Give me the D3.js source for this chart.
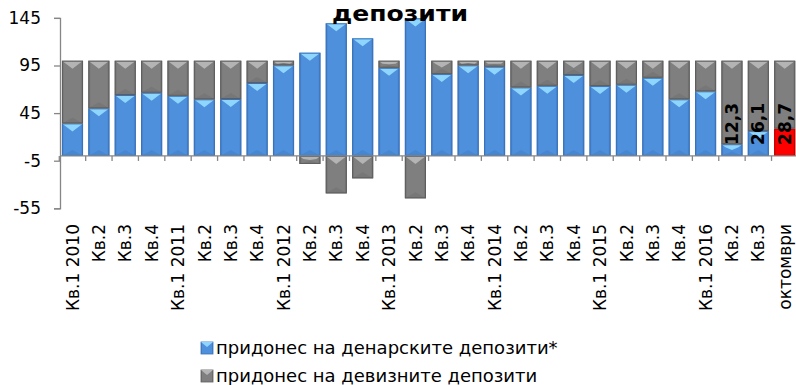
<!DOCTYPE html>
<html>
<head>
<meta charset="utf-8">
<script src="https://cdn.jsdelivr.net/npm/d3@7/dist/d3.min.js"></script>
<style>
  html, body { margin: 0; padding: 0; background: #fff; }
  svg { display: block; font-family: "DejaVu Sans", Verdana, sans-serif; }
</style>
</head>
<body>
<svg id="chart" width="796" height="385"></svg>
<script>
// Quarterly periods (and the latest month)
const categories = [
  "Кв.1 2010", "Кв.2", "Кв.3", "Кв.4",
  "Кв.1 2011", "Кв.2", "Кв.3", "Кв.4",
  "Кв.1 2012", "Кв.2", "Кв.3", "Кв.4",
  "Кв.1 2013", "Кв.2", "Кв.3", "Кв.4",
  "Кв.1 2014", "Кв.2", "Кв.3", "Кв.4",
  "Кв.1 2015", "Кв.2", "Кв.3", "Кв.4",
  "Кв.1 2016", "Кв.2", "Кв.3", "октомври"
];

// Contribution of denar deposits (%)
const denarContribution = [
  34.2, 50.0, 64.0, 66.4,
  63.2, 59.5, 59.8, 76.6,
  95.2, 108.4, 139.3, 123.5,
  92.6, 144.5, 86.0, 95.2,
  93.7, 72.0, 73.7, 85.0,
  73.4, 74.8, 82.1, 59.5,
  67.9, 12.3, 26.1, 28.7
];

// Contribution of foreign-currency deposits (%)
const foreignContribution = [
  65.8, 50.0, 36.0, 33.6,
  36.8, 40.5, 40.2, 23.4,
  4.8, -8.4, -39.3, -23.5,
  7.4, -44.5, 14.0, 4.8,
  6.3, 28.0, 26.3, 15.0,
  26.6, 25.2, 17.9, 40.5,
  32.1, 87.7, 73.9, 71.3
];

// Periods whose denar contribution is written on the bar
const labelledPeriods = [25, 26, 27];
// The latest month is highlighted
const highlightedPeriod = 27;

const yTicks = [-55, -5, 45, 95, 145];

const seriesNames = [
  "придонес на денарските депозити*",
  "придонес на девизните депозити"
];

const svg = d3.select("#chart");

const x = d3.scaleBand()
  .domain(d3.range(categories.length))
  .range([59.3, 797.9])
  .paddingInner(0.2)
  .paddingOuter(0.1);

const y = d3.scaleLinear()
  .domain([-55, 145])
  .range([208.3, 17.9]);

// Gradients that give the bars their bevelled look
const defs = svg.append("defs");
function sideGradient(id, edge, mid) {
  const g = defs.append("linearGradient").attr("id", id)
    .attr("x1", "0").attr("x2", "1").attr("y1", "0").attr("y2", "0");
  g.append("stop").attr("offset", "0").attr("stop-color", edge);
  g.append("stop").attr("offset", "0.12").attr("stop-color", mid);
  g.append("stop").attr("offset", "0.88").attr("stop-color", mid);
  g.append("stop").attr("offset", "1").attr("stop-color", edge);
}
sideGradient("gBlue", "#3d7bc6", "#4f90dc");
sideGradient("gGray", "#6c6c6c", "#7f7f7f");
sideGradient("gRed", "#e00000", "#ff0000");

const styles = [
  { fill: "url(#gBlue)", stroke: "#3a72b8", hi: "#8fd6ff", lo: "#4585d0" },
  { fill: "url(#gGray)", stroke: "#5e5e5e", hi: "#b4b4b4", lo: "#767676" }
];
const redStyle = { fill: "url(#gRed)", stroke: "#c00000", hi: null, lo: null };

const rows = categories.map((c, i) => ({
  i: i,
  denar: denarContribution[i],
  foreign: foreignContribution[i]
}));

const stacked = d3.stack()
  .keys(["denar", "foreign"])
  .offset(d3.stackOffsetDiverging)(rows);

// Bars
stacked.forEach((layer, k) => {
  const g = svg.append("g").attr("class", "series-" + k);
  layer.forEach((d, i) => {
    const st = (k === 0 && i === highlightedPeriod) ? redStyle : styles[k];
    const x0 = x(i), w = x.bandwidth();
    const top = y(Math.max(d[0], d[1]));
    const bot = y(Math.min(d[0], d[1]));
    const h = bot - top;
    if (h <= 0) return;
    const seg = g.append("g");
    seg.append("rect")
      .attr("x", x0).attr("y", top)
      .attr("width", w).attr("height", h)
      .attr("fill", st.fill);
    if (st.hi) {
      const th = Math.min(8, h * 0.5);
      // light facet along the top edge
      seg.append("path")
        .attr("d", `M${x0},${top} L${x0 + w},${top} L${x0 + w - 4},${top + 3} L${x0 + w / 2},${top + th} L${x0 + 4},${top + 3} Z`)
        .attr("fill", st.hi);
      // darker facet along the bottom edge
      const bh = Math.min(6, h * 0.4);
      seg.append("path")
        .attr("d", `M${x0},${bot} L${x0 + w},${bot} L${x0 + w / 2},${bot - bh} Z`)
        .attr("fill", st.lo).attr("opacity", 0.8);
    }
    seg.append("rect")
      .attr("x", x0 + 0.5).attr("y", top + 0.5)
      .attr("width", w - 1).attr("height", Math.max(0, h - 1))
      .attr("fill", "none")
      .attr("stroke", st.stroke).attr("stroke-width", 1);
  });
});

// Y axis (plain hyphen for negatives)
const yAxis = svg.append("g")
  .attr("transform", "translate(60,0)")
  .call(d3.axisLeft(y).tickValues(yTicks).tickSize(6).tickPadding(13).tickFormat(d => String(d)));
yAxis.select(".domain").attr("stroke", "#868686").attr("stroke-width", 1.3);
yAxis.selectAll(".tick line").attr("stroke", "#868686").attr("stroke-width", 1.3);
yAxis.selectAll(".tick text")
  .attr("font-size", "17px").attr("fill", "#000")
  .attr("font-family", "'DejaVu Sans', Verdana, sans-serif");

// Category axis along zero
const zeroY = y(0);
const xAxisG = svg.append("g");
xAxisG.append("line")
  .attr("x1", 60).attr("x2", x.range()[1])
  .attr("y1", zeroY).attr("y2", zeroY)
  .attr("stroke", "#868686").attr("stroke-width", 1.3);
xAxisG.selectAll("line.tick")
  .data(d3.range(categories.length + 1))
  .join("line")
  .attr("class", "tick")
  .attr("x1", i => x.range()[0] + i * x.step())
  .attr("x2", i => x.range()[0] + i * x.step())
  .attr("y1", zeroY).attr("y2", zeroY + 5)
  .attr("stroke", "#868686").attr("stroke-width", 1.3);

// Category labels below the plot
const labelTop = 224;
svg.append("g").selectAll("text")
  .data(categories)
  .join("text")
  .attr("transform", (c, i) => `translate(${x(i) + x.bandwidth() / 2},${labelTop}) rotate(-90)`)
  .attr("dy", "0.36em")
  .attr("text-anchor", "end")
  .attr("font-size", "17px")
  .attr("fill", "#000")
  .text(c => c);

// Value labels on the last periods
svg.append("g").selectAll("text")
  .data(labelledPeriods)
  .join("text")
  .attr("transform", i => `translate(${x(i) + x.bandwidth() / 2},${zeroY - 11}) rotate(-90)`)
  .attr("dy", "0.36em")
  .attr("text-anchor", "start")
  .attr("font-size", "17px")
  .attr("font-weight", "bold")
  .attr("fill", "#000")
  .text(i => d3.format(".1f")(denarContribution[i]).replace(".", ","));

// Title (lower line)
svg.append("text")
  .attr("x", 400).attr("y", 21)
  .attr("text-anchor", "middle")
  .attr("font-size", "22px")
  .attr("font-weight", "bold")
  .attr("textLength", 136)
  .attr("lengthAdjust", "spacingAndGlyphs")
  .attr("fill", "#000")
  .text("депозити");

// Legend
const legendItems = [
  { name: seriesNames[0], st: styles[0], yc: 348 },
  { name: seriesNames[1], st: styles[1], yc: 376 }
];
const lg = svg.append("g");
legendItems.forEach(it => {
  const s = 12, lx = 201, ly = it.yc - s / 2;
  lg.append("rect").attr("x", lx).attr("y", ly).attr("width", s).attr("height", s)
    .attr("fill", it.st.fill).attr("stroke", it.st.stroke).attr("stroke-width", 0.8);
  lg.append("path")
    .attr("d", `M${lx},${ly} L${lx + s},${ly} L${lx + s / 2},${ly + 5} Z`)
    .attr("fill", it.st.hi);
  lg.append("text")
    .attr("x", 216).attr("y", it.yc + 6)
    .attr("font-size", "18px")
    .attr("fill", "#000")
    .text(it.name);
});
</script>
</body>
</html>
